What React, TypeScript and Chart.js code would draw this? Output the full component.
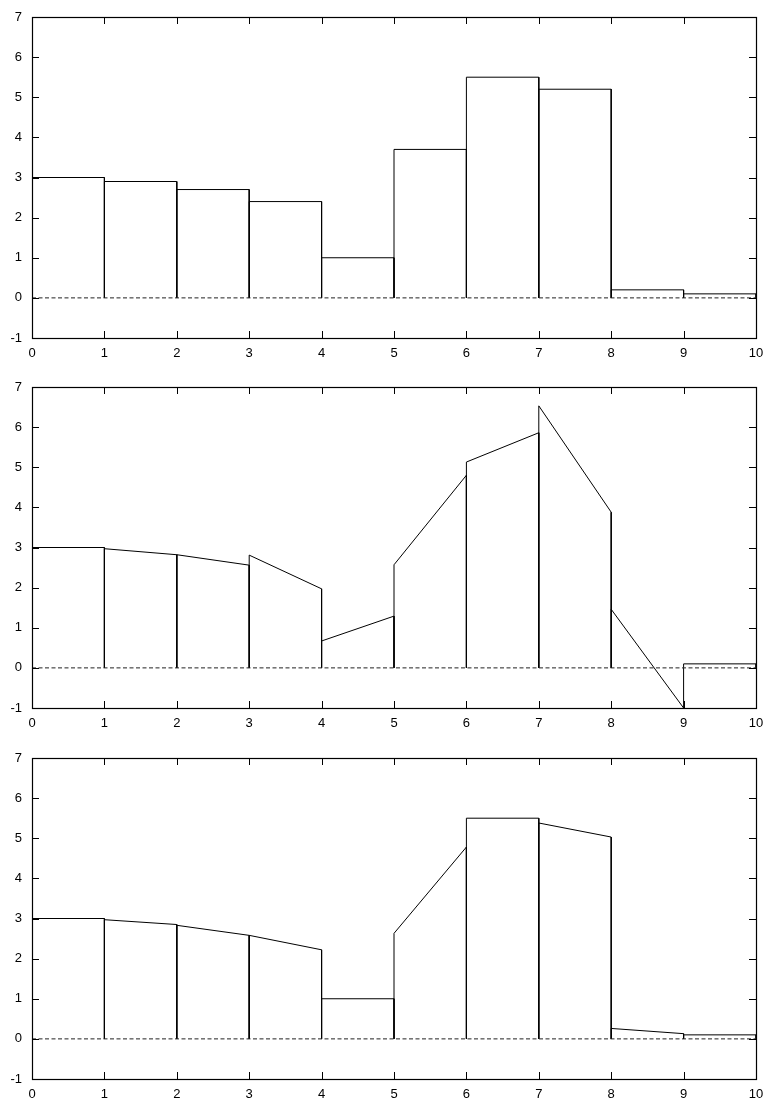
import React, { useEffect, useRef } from "react";
import { Chart, registerables } from "chart.js";

Chart.register(...registerables);

// Bin edges (x) and tick labels
const binEdges = [0, 1, 2, 3, 4, 5, 6, 7, 8, 9, 10];
const xTicks = [0, 1, 2, 3, 4, 5, 6, 7, 8, 9, 10];
const yTicks = [-1, 0, 1, 2, 3, 4, 5, 6, 7];

// Panel 1: piecewise-constant histogram heights
const boxHeights = [3.0, 2.9, 2.7, 2.4, 1.0, 3.7, 5.5, 5.2, 0.2, 0.1];

// Panel 2: piecewise-linear values (start / end of each bin)
const linStart2 = [3.0, 2.97, 2.82, 2.81, 0.67, 2.57, 5.13, 6.53, 1.46, 0.1];
const linEnd2 = [3.0, 2.82, 2.56, 1.97, 1.29, 4.8, 5.86, 3.88, -1.0, 0.1];

// Panel 3: limited piecewise-linear values (start / end of each bin)
const linStart3 = [3.0, 2.97, 2.83, 2.58, 1.0, 2.63, 5.5, 5.38, 0.26, 0.1];
const linEnd3 = [3.0, 2.85, 2.58, 2.22, 1.0, 4.78, 5.5, 5.03, 0.13, 0.1];

const FONT = { family: '"Liberation Sans", Arial, Helvetica, sans-serif', size: 13 };

const framePlugin = {
  id: "frameTicks",
  afterDraw(chart: any) {
    const { ctx, chartArea } = chart;
    const xs = chart.scales.x;
    const ys = chart.scales.y;
    const L = chartArea.left, R = chartArea.right, T = chartArea.top, B = chartArea.bottom;
    const tl = 7;
    ctx.save();
    ctx.strokeStyle = "#000";
    ctx.lineWidth = 1;
    ctx.setLineDash([]);
    ctx.beginPath();
    for (const v of xTicks) {
      const px = Math.round(xs.getPixelForValue(v)) + 0.5;
      ctx.moveTo(px, B);
      ctx.lineTo(px, B - tl);
      ctx.moveTo(px, T);
      ctx.lineTo(px, T + tl);
    }
    for (const v of yTicks) {
      const py = Math.round(ys.getPixelForValue(v)) + 0.5;
      ctx.moveTo(L, py);
      ctx.lineTo(L + tl, py);
      ctx.moveTo(R, py);
      ctx.lineTo(R - tl, py);
    }
    ctx.stroke();
    ctx.lineWidth = 1.2;
    ctx.strokeRect(Math.round(L) + 0.5, Math.round(T) + 0.5, Math.round(R - L), Math.round(B - T));
    ctx.restore();
  },
};

function makeDatasets(starts: number[], ends: number[]) {
  const ds: any[] = [
    {
      data: [
        { x: xTicks[0], y: 0 },
        { x: xTicks[xTicks.length - 1], y: 0 },
      ],
      borderColor: "#222",
      borderWidth: 1,
      borderDash: [4, 2.5],
      pointRadius: 0,
    },
  ];
  for (let i = 0; i < starts.length; i++) {
    ds.push({
      data: [
        { x: binEdges[i], y: 0 },
        { x: binEdges[i], y: starts[i] },
        { x: binEdges[i + 1], y: ends[i] },
        { x: binEdges[i + 1], y: 0 },
      ],
      borderColor: "#000",
      borderWidth: 1,
      pointRadius: 0,
      tension: 0,
    });
  }
  return ds;
}

function Panel({ starts, ends, top }: { starts: number[]; ends: number[]; top: number }) {
  const ref = useRef<HTMLCanvasElement | null>(null);
  useEffect(() => {
    if (!ref.current) return;
    const chart = new Chart(ref.current, {
      type: "line",
      data: { datasets: makeDatasets(starts, ends) },
      options: {
        animation: false,
        responsive: false,
        events: [],
        layout: { padding: { top: 17, right: 13, left: 0, bottom: 0 } },
        plugins: { legend: { display: false }, tooltip: { enabled: false } },
        scales: {
          x: {
            type: "linear",
            min: 0,
            max: 10,
            afterBuildTicks: (s: any) => {
              s.ticks = xTicks.map((v) => ({ value: v }));
            },
            afterFit: (s: any) => {
              s.height = 25;
              s.paddingLeft = 0;
              s.paddingRight = 0;
            },
            grid: { display: false, drawTicks: false },
            border: { display: false },
            ticks: { color: "#000", font: FONT, padding: 8, maxRotation: 0, autoSkip: false },
          },
          y: {
            type: "linear",
            min: -1,
            max: 7,
            afterBuildTicks: (s: any) => {
              s.ticks = yTicks.map((v) => ({ value: v }));
            },
            afterFit: (s: any) => {
              s.width = 32;
              s.paddingTop = 0;
              s.paddingBottom = 0;
            },
            grid: { display: false, drawTicks: false },
            border: { display: false },
            ticks: { color: "#000", font: FONT, padding: 10, autoSkip: false },
          },
        },
      },
      plugins: [framePlugin],
    });
    return () => chart.destroy();
  }, [starts, ends]);
  return (
    <canvas
      ref={ref}
      width={769}
      height={363}
      style={{ position: "absolute", left: 0, top, display: "block", width: 769, height: 363 }}
    />
  );
}

export default function App() {
  return (
    <div style={{ position: "absolute", left: 0, top: 0, width: 769, height: 1104, background: "#fff" }}>
      <Panel starts={boxHeights} ends={boxHeights} top={0} />
      <Panel starts={linStart2} ends={linEnd2} top={370} />
      <Panel starts={linStart3} ends={linEnd3} top={741} />
    </div>
  );
}
